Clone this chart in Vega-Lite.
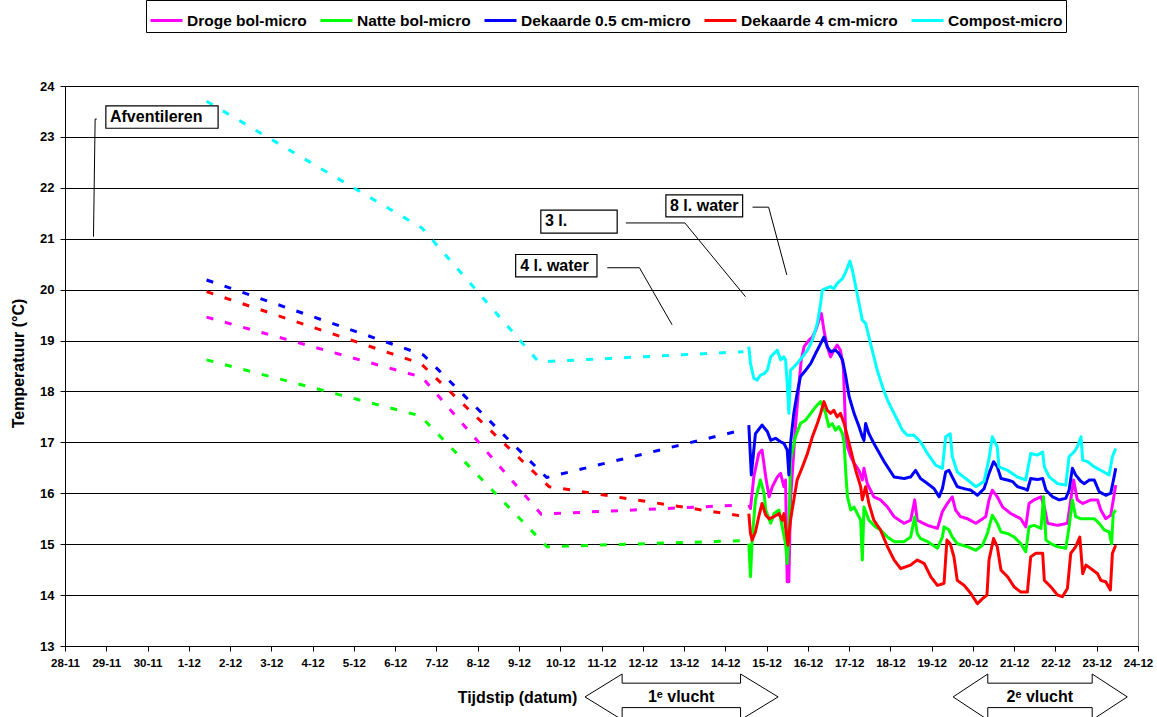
{
  "$schema": "https://vega.github.io/schema/vega-lite/v6.json",
  "width": 1073,
  "height": 560,
  "autosize": {"type": "none"},
  "padding": {"left": 65, "top": 86, "right": 19, "bottom": 71},
  "background": "white",
  "config": {
    "font": "Liberation Sans, Arial, sans-serif",
    "view": {"stroke": "#888888", "strokeWidth": 1},
    "text": {"font": "Liberation Sans, Arial, sans-serif"}
  },
  "datasets": {
    "temps": [
      {"s":"Droge bol-micro","g":"dash","x":3.43,"y":19.46},{"s":"Droge bol-micro","g":"dash","x":8.65,"y":18.28},{"s":"Droge bol-micro","g":"dash","x":11.54,"y":15.59},{"s":"Droge bol-micro","g":"dash","x":16.44,"y":15.77},
      {"s":"Droge bol-micro","g":"solid","x":16.57,"y":15.77},{"s":"Droge bol-micro","g":"solid","x":16.61,"y":15.70},{"s":"Droge bol-micro","g":"solid","x":16.69,"y":16.32},{"s":"Droge bol-micro","g":"solid","x":16.81,"y":16.78},{"s":"Droge bol-micro","g":"solid","x":16.89,"y":16.85},{"s":"Droge bol-micro","g":"solid","x":16.98,"y":16.32},{"s":"Droge bol-micro","g":"solid","x":17.06,"y":15.93},{"s":"Droge bol-micro","g":"solid","x":17.14,"y":16.13},{"s":"Droge bol-micro","g":"solid","x":17.26,"y":16.32},{"s":"Droge bol-micro","g":"solid","x":17.34,"y":16.39},{"s":"Droge bol-micro","g":"solid","x":17.42,"y":16.13},{"s":"Droge bol-micro","g":"solid","x":17.46,"y":16.26},{"s":"Droge bol-micro","g":"solid","x":17.50,"y":14.26},{"s":"Droge bol-micro","g":"solid","x":17.54,"y":14.26},{"s":"Droge bol-micro","g":"solid","x":17.58,"y":15.87},{"s":"Droge bol-micro","g":"solid","x":17.70,"y":17.31},{"s":"Droge bol-micro","g":"solid","x":17.78,"y":18.09},{"s":"Droge bol-micro","g":"solid","x":17.84,"y":18.62},{"s":"Droge bol-micro","g":"solid","x":17.91,"y":18.88},{"s":"Droge bol-micro","g":"solid","x":18.03,"y":19.01},{"s":"Droge bol-micro","g":"solid","x":18.11,"y":19.07},{"s":"Droge bol-micro","g":"solid","x":18.19,"y":19.20},{"s":"Droge bol-micro","g":"solid","x":18.27,"y":19.40},{"s":"Droge bol-micro","g":"solid","x":18.33,"y":19.53},{"s":"Droge bol-micro","g":"solid","x":18.39,"y":19.20},{"s":"Droge bol-micro","g":"solid","x":18.47,"y":18.88},{"s":"Droge bol-micro","g":"solid","x":18.55,"y":18.68},{"s":"Droge bol-micro","g":"solid","x":18.63,"y":18.81},{"s":"Droge bol-micro","g":"solid","x":18.71,"y":18.91},{"s":"Droge bol-micro","g":"solid","x":18.79,"y":18.81},{"s":"Droge bol-micro","g":"solid","x":18.86,"y":18.48},{"s":"Droge bol-micro","g":"solid","x":18.89,"y":17.83},{"s":"Droge bol-micro","g":"solid","x":18.92,"y":17.11},{"s":"Droge bol-micro","g":"solid","x":18.96,"y":16.91},{"s":"Droge bol-micro","g":"solid","x":19.04,"y":16.72},{"s":"Droge bol-micro","g":"solid","x":19.12,"y":16.59},{"s":"Droge bol-micro","g":"solid","x":19.24,"y":16.45},{"s":"Droge bol-micro","g":"solid","x":19.32,"y":16.26},{"s":"Droge bol-micro","g":"solid","x":19.36,"y":16.49},{"s":"Droge bol-micro","g":"solid","x":19.44,"y":16.19},{"s":"Droge bol-micro","g":"solid","x":19.60,"y":15.93},{"s":"Droge bol-micro","g":"solid","x":19.76,"y":15.87},{"s":"Droge bol-micro","g":"solid","x":19.93,"y":15.73},{"s":"Droge bol-micro","g":"solid","x":20.09,"y":15.54},{"s":"Droge bol-micro","g":"solid","x":20.33,"y":15.41},{"s":"Droge bol-micro","g":"solid","x":20.49,"y":15.47},{"s":"Droge bol-micro","g":"solid","x":20.59,"y":15.87},{"s":"Droge bol-micro","g":"solid","x":20.65,"y":15.47},{"s":"Droge bol-micro","g":"solid","x":20.90,"y":15.37},{"s":"Droge bol-micro","g":"solid","x":21.14,"y":15.31},{"s":"Droge bol-micro","g":"solid","x":21.26,"y":15.64},{"s":"Droge bol-micro","g":"solid","x":21.38,"y":15.80},{"s":"Droge bol-micro","g":"solid","x":21.50,"y":15.93},{"s":"Droge bol-micro","g":"solid","x":21.58,"y":15.67},{"s":"Droge bol-micro","g":"solid","x":21.70,"y":15.54},{"s":"Droge bol-micro","g":"solid","x":21.87,"y":15.50},{"s":"Droge bol-micro","g":"solid","x":22.07,"y":15.41},{"s":"Droge bol-micro","g":"solid","x":22.31,"y":15.54},{"s":"Droge bol-micro","g":"solid","x":22.39,"y":15.87},{"s":"Droge bol-micro","g":"solid","x":22.47,"y":16.06},{"s":"Droge bol-micro","g":"solid","x":22.59,"y":15.93},{"s":"Droge bol-micro","g":"solid","x":22.72,"y":15.73},{"s":"Droge bol-micro","g":"solid","x":22.92,"y":15.60},{"s":"Droge bol-micro","g":"solid","x":23.16,"y":15.50},{"s":"Droge bol-micro","g":"solid","x":23.28,"y":15.34},{"s":"Droge bol-micro","g":"solid","x":23.36,"y":15.80},{"s":"Droge bol-micro","g":"solid","x":23.48,"y":15.87},{"s":"Droge bol-micro","g":"solid","x":23.65,"y":15.93},{"s":"Droge bol-micro","g":"solid","x":23.73,"y":15.73},{"s":"Droge bol-micro","g":"solid","x":23.81,"y":15.41},{"s":"Droge bol-micro","g":"solid","x":24.05,"y":15.37},{"s":"Droge bol-micro","g":"solid","x":24.29,"y":15.41},{"s":"Droge bol-micro","g":"solid","x":24.37,"y":15.87},{"s":"Droge bol-micro","g":"solid","x":24.44,"y":16.26},{"s":"Droge bol-micro","g":"solid","x":24.53,"y":15.87},{"s":"Droge bol-micro","g":"solid","x":24.66,"y":15.80},{"s":"Droge bol-micro","g":"solid","x":24.86,"y":15.87},{"s":"Droge bol-micro","g":"solid","x":25.02,"y":15.87},{"s":"Droge bol-micro","g":"solid","x":25.10,"y":15.67},{"s":"Droge bol-micro","g":"solid","x":25.22,"y":15.50},{"s":"Droge bol-micro","g":"solid","x":25.34,"y":15.57},{"s":"Droge bol-micro","g":"solid","x":25.46,"y":16.16},

      {"s":"Natte bol-micro","g":"dash","x":3.43,"y":18.62},{"s":"Natte bol-micro","g":"dash","x":8.61,"y":17.52},{"s":"Natte bol-micro","g":"dash","x":11.68,"y":14.95},{"s":"Natte bol-micro","g":"dash","x":16.44,"y":15.07},
      {"s":"Natte bol-micro","g":"solid","x":16.57,"y":15.01},{"s":"Natte bol-micro","g":"solid","x":16.61,"y":14.36},{"s":"Natte bol-micro","g":"solid","x":16.65,"y":15.08},{"s":"Natte bol-micro","g":"solid","x":16.73,"y":15.87},{"s":"Natte bol-micro","g":"solid","x":16.85,"y":16.26},{"s":"Natte bol-micro","g":"solid","x":16.94,"y":16.00},{"s":"Natte bol-micro","g":"solid","x":16.98,"y":15.67},{"s":"Natte bol-micro","g":"solid","x":17.10,"y":15.41},{"s":"Natte bol-micro","g":"solid","x":17.18,"y":15.60},{"s":"Natte bol-micro","g":"solid","x":17.30,"y":15.67},{"s":"Natte bol-micro","g":"solid","x":17.38,"y":15.34},{"s":"Natte bol-micro","g":"solid","x":17.46,"y":15.01},{"s":"Natte bol-micro","g":"solid","x":17.50,"y":14.62},{"s":"Natte bol-micro","g":"solid","x":17.54,"y":15.21},{"s":"Natte bol-micro","g":"solid","x":17.58,"y":16.65},{"s":"Natte bol-micro","g":"solid","x":17.70,"y":17.11},{"s":"Natte bol-micro","g":"solid","x":17.82,"y":17.37},{"s":"Natte bol-micro","g":"solid","x":17.95,"y":17.44},{"s":"Natte bol-micro","g":"solid","x":18.07,"y":17.57},{"s":"Natte bol-micro","g":"solid","x":18.19,"y":17.70},{"s":"Natte bol-micro","g":"solid","x":18.31,"y":17.80},{"s":"Natte bol-micro","g":"solid","x":18.43,"y":17.57},{"s":"Natte bol-micro","g":"solid","x":18.51,"y":17.31},{"s":"Natte bol-micro","g":"solid","x":18.59,"y":17.37},{"s":"Natte bol-micro","g":"solid","x":18.67,"y":17.24},{"s":"Natte bol-micro","g":"solid","x":18.75,"y":17.31},{"s":"Natte bol-micro","g":"solid","x":18.84,"y":17.17},{"s":"Natte bol-micro","g":"solid","x":18.88,"y":16.98},{"s":"Natte bol-micro","g":"solid","x":18.92,"y":16.39},{"s":"Natte bol-micro","g":"solid","x":18.96,"y":15.93},{"s":"Natte bol-micro","g":"solid","x":19.04,"y":15.67},{"s":"Natte bol-micro","g":"solid","x":19.12,"y":15.73},{"s":"Natte bol-micro","g":"solid","x":19.20,"y":15.60},{"s":"Natte bol-micro","g":"solid","x":19.28,"y":15.47},{"s":"Natte bol-micro","g":"solid","x":19.32,"y":14.69},{"s":"Natte bol-micro","g":"solid","x":19.36,"y":15.73},{"s":"Natte bol-micro","g":"solid","x":19.48,"y":15.47},{"s":"Natte bol-micro","g":"solid","x":19.64,"y":15.34},{"s":"Natte bol-micro","g":"solid","x":19.76,"y":15.28},{"s":"Natte bol-micro","g":"solid","x":19.93,"y":15.14},{"s":"Natte bol-micro","g":"solid","x":20.09,"y":15.05},{"s":"Natte bol-micro","g":"solid","x":20.33,"y":15.05},{"s":"Natte bol-micro","g":"solid","x":20.49,"y":15.14},{"s":"Natte bol-micro","g":"solid","x":20.59,"y":15.54},{"s":"Natte bol-micro","g":"solid","x":20.65,"y":15.21},{"s":"Natte bol-micro","g":"solid","x":20.73,"y":15.11},{"s":"Natte bol-micro","g":"solid","x":20.90,"y":15.05},{"s":"Natte bol-micro","g":"solid","x":21.14,"y":14.92},{"s":"Natte bol-micro","g":"solid","x":21.26,"y":15.14},{"s":"Natte bol-micro","g":"solid","x":21.30,"y":15.34},{"s":"Natte bol-micro","g":"solid","x":21.42,"y":15.28},{"s":"Natte bol-micro","g":"solid","x":21.50,"y":15.14},{"s":"Natte bol-micro","g":"solid","x":21.62,"y":15.01},{"s":"Natte bol-micro","g":"solid","x":21.87,"y":14.95},{"s":"Natte bol-micro","g":"solid","x":22.07,"y":14.88},{"s":"Natte bol-micro","g":"solid","x":22.23,"y":14.98},{"s":"Natte bol-micro","g":"solid","x":22.35,"y":15.21},{"s":"Natte bol-micro","g":"solid","x":22.47,"y":15.57},{"s":"Natte bol-micro","g":"solid","x":22.59,"y":15.41},{"s":"Natte bol-micro","g":"solid","x":22.68,"y":15.24},{"s":"Natte bol-micro","g":"solid","x":22.84,"y":15.21},{"s":"Natte bol-micro","g":"solid","x":23.00,"y":15.14},{"s":"Natte bol-micro","g":"solid","x":23.16,"y":15.01},{"s":"Natte bol-micro","g":"solid","x":23.28,"y":14.85},{"s":"Natte bol-micro","g":"solid","x":23.36,"y":15.34},{"s":"Natte bol-micro","g":"solid","x":23.48,"y":15.37},{"s":"Natte bol-micro","g":"solid","x":23.65,"y":15.31},{"s":"Natte bol-micro","g":"solid","x":23.71,"y":15.93},{"s":"Natte bol-micro","g":"solid","x":23.77,"y":15.08},{"s":"Natte bol-micro","g":"solid","x":23.89,"y":15.01},{"s":"Natte bol-micro","g":"solid","x":24.05,"y":14.95},{"s":"Natte bol-micro","g":"solid","x":24.25,"y":14.92},{"s":"Natte bol-micro","g":"solid","x":24.33,"y":15.34},{"s":"Natte bol-micro","g":"solid","x":24.41,"y":15.87},{"s":"Natte bol-micro","g":"solid","x":24.49,"y":15.54},{"s":"Natte bol-micro","g":"solid","x":24.62,"y":15.50},{"s":"Natte bol-micro","g":"solid","x":24.78,"y":15.50},{"s":"Natte bol-micro","g":"solid","x":24.94,"y":15.50},{"s":"Natte bol-micro","g":"solid","x":25.06,"y":15.41},{"s":"Natte bol-micro","g":"solid","x":25.18,"y":15.28},{"s":"Natte bol-micro","g":"solid","x":25.30,"y":15.24},{"s":"Natte bol-micro","g":"solid","x":25.36,"y":15.01},{"s":"Natte bol-micro","g":"solid","x":25.40,"y":15.60},{"s":"Natte bol-micro","g":"solid","x":25.46,"y":15.67},

      {"s":"Dekaarde 0.5 cm-micro","g":"dash","x":3.43,"y":20.19},{"s":"Dekaarde 0.5 cm-micro","g":"dash","x":8.68,"y":18.72},{"s":"Dekaarde 0.5 cm-micro","g":"dash","x":11.67,"y":16.31},{"s":"Dekaarde 0.5 cm-micro","g":"dash","x":16.45,"y":17.25},
      {"s":"Dekaarde 0.5 cm-micro","g":"solid","x":16.57,"y":17.34},{"s":"Dekaarde 0.5 cm-micro","g":"solid","x":16.63,"y":16.36},{"s":"Dekaarde 0.5 cm-micro","g":"solid","x":16.73,"y":17.17},{"s":"Dekaarde 0.5 cm-micro","g":"solid","x":16.89,"y":17.34},{"s":"Dekaarde 0.5 cm-micro","g":"solid","x":17.02,"y":17.21},{"s":"Dekaarde 0.5 cm-micro","g":"solid","x":17.10,"y":17.04},{"s":"Dekaarde 0.5 cm-micro","g":"solid","x":17.22,"y":17.08},{"s":"Dekaarde 0.5 cm-micro","g":"solid","x":17.34,"y":17.01},{"s":"Dekaarde 0.5 cm-micro","g":"solid","x":17.42,"y":16.98},{"s":"Dekaarde 0.5 cm-micro","g":"solid","x":17.50,"y":16.85},{"s":"Dekaarde 0.5 cm-micro","g":"solid","x":17.54,"y":16.36},{"s":"Dekaarde 0.5 cm-micro","g":"solid","x":17.58,"y":16.98},{"s":"Dekaarde 0.5 cm-micro","g":"solid","x":17.66,"y":17.57},{"s":"Dekaarde 0.5 cm-micro","g":"solid","x":17.74,"y":17.96},{"s":"Dekaarde 0.5 cm-micro","g":"solid","x":17.82,"y":18.29},{"s":"Dekaarde 0.5 cm-micro","g":"solid","x":17.95,"y":18.42},{"s":"Dekaarde 0.5 cm-micro","g":"solid","x":18.07,"y":18.55},{"s":"Dekaarde 0.5 cm-micro","g":"solid","x":18.19,"y":18.75},{"s":"Dekaarde 0.5 cm-micro","g":"solid","x":18.31,"y":18.94},{"s":"Dekaarde 0.5 cm-micro","g":"solid","x":18.39,"y":19.07},{"s":"Dekaarde 0.5 cm-micro","g":"solid","x":18.47,"y":18.88},{"s":"Dekaarde 0.5 cm-micro","g":"solid","x":18.55,"y":18.78},{"s":"Dekaarde 0.5 cm-micro","g":"solid","x":18.67,"y":18.81},{"s":"Dekaarde 0.5 cm-micro","g":"solid","x":18.75,"y":18.75},{"s":"Dekaarde 0.5 cm-micro","g":"solid","x":18.84,"y":18.62},{"s":"Dekaarde 0.5 cm-micro","g":"solid","x":18.92,"y":18.29},{"s":"Dekaarde 0.5 cm-micro","g":"solid","x":19.00,"y":17.90},{"s":"Dekaarde 0.5 cm-micro","g":"solid","x":19.12,"y":17.57},{"s":"Dekaarde 0.5 cm-micro","g":"solid","x":19.24,"y":17.31},{"s":"Dekaarde 0.5 cm-micro","g":"solid","x":19.32,"y":17.11},{"s":"Dekaarde 0.5 cm-micro","g":"solid","x":19.36,"y":17.04},{"s":"Dekaarde 0.5 cm-micro","g":"solid","x":19.40,"y":17.37},{"s":"Dekaarde 0.5 cm-micro","g":"solid","x":19.48,"y":17.17},{"s":"Dekaarde 0.5 cm-micro","g":"solid","x":19.60,"y":16.98},{"s":"Dekaarde 0.5 cm-micro","g":"solid","x":19.85,"y":16.62},{"s":"Dekaarde 0.5 cm-micro","g":"solid","x":20.09,"y":16.32},{"s":"Dekaarde 0.5 cm-micro","g":"solid","x":20.33,"y":16.29},{"s":"Dekaarde 0.5 cm-micro","g":"solid","x":20.49,"y":16.32},{"s":"Dekaarde 0.5 cm-micro","g":"solid","x":20.61,"y":16.45},{"s":"Dekaarde 0.5 cm-micro","g":"solid","x":20.73,"y":16.29},{"s":"Dekaarde 0.5 cm-micro","g":"solid","x":20.90,"y":16.19},{"s":"Dekaarde 0.5 cm-micro","g":"solid","x":21.06,"y":16.09},{"s":"Dekaarde 0.5 cm-micro","g":"solid","x":21.18,"y":15.93},{"s":"Dekaarde 0.5 cm-micro","g":"solid","x":21.26,"y":16.09},{"s":"Dekaarde 0.5 cm-micro","g":"solid","x":21.34,"y":16.42},{"s":"Dekaarde 0.5 cm-micro","g":"solid","x":21.42,"y":16.45},{"s":"Dekaarde 0.5 cm-micro","g":"solid","x":21.50,"y":16.32},{"s":"Dekaarde 0.5 cm-micro","g":"solid","x":21.62,"y":16.13},{"s":"Dekaarde 0.5 cm-micro","g":"solid","x":21.79,"y":16.09},{"s":"Dekaarde 0.5 cm-micro","g":"solid","x":21.95,"y":16.06},{"s":"Dekaarde 0.5 cm-micro","g":"solid","x":22.11,"y":15.96},{"s":"Dekaarde 0.5 cm-micro","g":"solid","x":22.27,"y":16.09},{"s":"Dekaarde 0.5 cm-micro","g":"solid","x":22.39,"y":16.39},{"s":"Dekaarde 0.5 cm-micro","g":"solid","x":22.50,"y":16.62},{"s":"Dekaarde 0.5 cm-micro","g":"solid","x":22.59,"y":16.52},{"s":"Dekaarde 0.5 cm-micro","g":"solid","x":22.68,"y":16.29},{"s":"Dekaarde 0.5 cm-micro","g":"solid","x":22.84,"y":16.26},{"s":"Dekaarde 0.5 cm-micro","g":"solid","x":22.96,"y":16.23},{"s":"Dekaarde 0.5 cm-micro","g":"solid","x":23.08,"y":16.13},{"s":"Dekaarde 0.5 cm-micro","g":"solid","x":23.24,"y":16.09},{"s":"Dekaarde 0.5 cm-micro","g":"solid","x":23.32,"y":16.06},{"s":"Dekaarde 0.5 cm-micro","g":"solid","x":23.40,"y":16.29},{"s":"Dekaarde 0.5 cm-micro","g":"solid","x":23.56,"y":16.27},{"s":"Dekaarde 0.5 cm-micro","g":"solid","x":23.69,"y":16.29},{"s":"Dekaarde 0.5 cm-micro","g":"solid","x":23.77,"y":16.06},{"s":"Dekaarde 0.5 cm-micro","g":"solid","x":23.93,"y":15.93},{"s":"Dekaarde 0.5 cm-micro","g":"solid","x":24.09,"y":15.87},{"s":"Dekaarde 0.5 cm-micro","g":"solid","x":24.25,"y":15.90},{"s":"Dekaarde 0.5 cm-micro","g":"solid","x":24.33,"y":16.06},{"s":"Dekaarde 0.5 cm-micro","g":"solid","x":24.41,"y":16.49},{"s":"Dekaarde 0.5 cm-micro","g":"solid","x":24.49,"y":16.36},{"s":"Dekaarde 0.5 cm-micro","g":"solid","x":24.62,"y":16.23},{"s":"Dekaarde 0.5 cm-micro","g":"solid","x":24.70,"y":16.19},{"s":"Dekaarde 0.5 cm-micro","g":"solid","x":24.82,"y":16.26},{"s":"Dekaarde 0.5 cm-micro","g":"solid","x":24.94,"y":16.26},{"s":"Dekaarde 0.5 cm-micro","g":"solid","x":25.06,"y":16.03},{"s":"Dekaarde 0.5 cm-micro","g":"solid","x":25.22,"y":15.96},{"s":"Dekaarde 0.5 cm-micro","g":"solid","x":25.34,"y":16.00},{"s":"Dekaarde 0.5 cm-micro","g":"solid","x":25.42,"y":16.32},{"s":"Dekaarde 0.5 cm-micro","g":"solid","x":25.46,"y":16.49},

      {"s":"Dekaarde 4 cm-micro","g":"dash","x":3.43,"y":19.96},{"s":"Dekaarde 4 cm-micro","g":"dash","x":8.62,"y":18.55},{"s":"Dekaarde 4 cm-micro","g":"dash","x":11.73,"y":16.13},{"s":"Dekaarde 4 cm-micro","g":"dash","x":16.42,"y":15.55},
      {"s":"Dekaarde 4 cm-micro","g":"solid","x":16.57,"y":15.60},{"s":"Dekaarde 4 cm-micro","g":"solid","x":16.61,"y":15.21},{"s":"Dekaarde 4 cm-micro","g":"solid","x":16.65,"y":15.08},{"s":"Dekaarde 4 cm-micro","g":"solid","x":16.73,"y":15.24},{"s":"Dekaarde 4 cm-micro","g":"solid","x":16.81,"y":15.54},{"s":"Dekaarde 4 cm-micro","g":"solid","x":16.89,"y":15.80},{"s":"Dekaarde 4 cm-micro","g":"solid","x":16.98,"y":15.57},{"s":"Dekaarde 4 cm-micro","g":"solid","x":17.06,"y":15.50},{"s":"Dekaarde 4 cm-micro","g":"solid","x":17.18,"y":15.54},{"s":"Dekaarde 4 cm-micro","g":"solid","x":17.30,"y":15.60},{"s":"Dekaarde 4 cm-micro","g":"solid","x":17.38,"y":15.47},{"s":"Dekaarde 4 cm-micro","g":"solid","x":17.42,"y":15.60},{"s":"Dekaarde 4 cm-micro","g":"solid","x":17.50,"y":15.08},{"s":"Dekaarde 4 cm-micro","g":"solid","x":17.52,"y":14.98},{"s":"Dekaarde 4 cm-micro","g":"solid","x":17.58,"y":15.47},{"s":"Dekaarde 4 cm-micro","g":"solid","x":17.66,"y":15.87},{"s":"Dekaarde 4 cm-micro","g":"solid","x":17.74,"y":16.26},{"s":"Dekaarde 4 cm-micro","g":"solid","x":17.87,"y":16.52},{"s":"Dekaarde 4 cm-micro","g":"solid","x":17.99,"y":16.78},{"s":"Dekaarde 4 cm-micro","g":"solid","x":18.11,"y":17.11},{"s":"Dekaarde 4 cm-micro","g":"solid","x":18.23,"y":17.37},{"s":"Dekaarde 4 cm-micro","g":"solid","x":18.31,"y":17.57},{"s":"Dekaarde 4 cm-micro","g":"solid","x":18.39,"y":17.80},{"s":"Dekaarde 4 cm-micro","g":"solid","x":18.47,"y":17.63},{"s":"Dekaarde 4 cm-micro","g":"solid","x":18.55,"y":17.57},{"s":"Dekaarde 4 cm-micro","g":"solid","x":18.63,"y":17.63},{"s":"Dekaarde 4 cm-micro","g":"solid","x":18.71,"y":17.50},{"s":"Dekaarde 4 cm-micro","g":"solid","x":18.79,"y":17.57},{"s":"Dekaarde 4 cm-micro","g":"solid","x":18.88,"y":17.37},{"s":"Dekaarde 4 cm-micro","g":"solid","x":18.96,"y":17.11},{"s":"Dekaarde 4 cm-micro","g":"solid","x":19.04,"y":16.85},{"s":"Dekaarde 4 cm-micro","g":"solid","x":19.16,"y":16.45},{"s":"Dekaarde 4 cm-micro","g":"solid","x":19.28,"y":16.13},{"s":"Dekaarde 4 cm-micro","g":"solid","x":19.32,"y":15.87},{"s":"Dekaarde 4 cm-micro","g":"solid","x":19.40,"y":16.13},{"s":"Dekaarde 4 cm-micro","g":"solid","x":19.48,"y":15.80},{"s":"Dekaarde 4 cm-micro","g":"solid","x":19.60,"y":15.47},{"s":"Dekaarde 4 cm-micro","g":"solid","x":19.76,"y":15.28},{"s":"Dekaarde 4 cm-micro","g":"solid","x":19.93,"y":14.95},{"s":"Dekaarde 4 cm-micro","g":"solid","x":20.09,"y":14.69},{"s":"Dekaarde 4 cm-micro","g":"solid","x":20.25,"y":14.52},{"s":"Dekaarde 4 cm-micro","g":"solid","x":20.49,"y":14.59},{"s":"Dekaarde 4 cm-micro","g":"solid","x":20.65,"y":14.69},{"s":"Dekaarde 4 cm-micro","g":"solid","x":20.82,"y":14.62},{"s":"Dekaarde 4 cm-micro","g":"solid","x":20.98,"y":14.36},{"s":"Dekaarde 4 cm-micro","g":"solid","x":21.14,"y":14.19},{"s":"Dekaarde 4 cm-micro","g":"solid","x":21.30,"y":14.23},{"s":"Dekaarde 4 cm-micro","g":"solid","x":21.37,"y":15.08},{"s":"Dekaarde 4 cm-micro","g":"solid","x":21.45,"y":15.01},{"s":"Dekaarde 4 cm-micro","g":"solid","x":21.54,"y":14.75},{"s":"Dekaarde 4 cm-micro","g":"solid","x":21.62,"y":14.29},{"s":"Dekaarde 4 cm-micro","g":"solid","x":21.79,"y":14.19},{"s":"Dekaarde 4 cm-micro","g":"solid","x":21.95,"y":14.03},{"s":"Dekaarde 4 cm-micro","g":"solid","x":22.11,"y":13.83},{"s":"Dekaarde 4 cm-micro","g":"solid","x":22.23,"y":13.93},{"s":"Dekaarde 4 cm-micro","g":"solid","x":22.34,"y":14.00},{"s":"Dekaarde 4 cm-micro","g":"solid","x":22.39,"y":14.69},{"s":"Dekaarde 4 cm-micro","g":"solid","x":22.50,"y":15.11},{"s":"Dekaarde 4 cm-micro","g":"solid","x":22.59,"y":14.95},{"s":"Dekaarde 4 cm-micro","g":"solid","x":22.68,"y":14.49},{"s":"Dekaarde 4 cm-micro","g":"solid","x":22.84,"y":14.36},{"s":"Dekaarde 4 cm-micro","g":"solid","x":23.00,"y":14.16},{"s":"Dekaarde 4 cm-micro","g":"solid","x":23.16,"y":14.06},{"s":"Dekaarde 4 cm-micro","g":"solid","x":23.32,"y":14.06},{"s":"Dekaarde 4 cm-micro","g":"solid","x":23.40,"y":14.75},{"s":"Dekaarde 4 cm-micro","g":"solid","x":23.52,"y":14.82},{"s":"Dekaarde 4 cm-micro","g":"solid","x":23.69,"y":14.82},{"s":"Dekaarde 4 cm-micro","g":"solid","x":23.73,"y":14.29},{"s":"Dekaarde 4 cm-micro","g":"solid","x":23.89,"y":14.16},{"s":"Dekaarde 4 cm-micro","g":"solid","x":24.05,"y":14.00},{"s":"Dekaarde 4 cm-micro","g":"solid","x":24.17,"y":13.97},{"s":"Dekaarde 4 cm-micro","g":"solid","x":24.29,"y":14.13},{"s":"Dekaarde 4 cm-micro","g":"solid","x":24.37,"y":14.82},{"s":"Dekaarde 4 cm-micro","g":"solid","x":24.49,"y":14.95},{"s":"Dekaarde 4 cm-micro","g":"solid","x":24.59,"y":15.14},{"s":"Dekaarde 4 cm-micro","g":"solid","x":24.66,"y":14.42},{"s":"Dekaarde 4 cm-micro","g":"solid","x":24.74,"y":14.59},{"s":"Dekaarde 4 cm-micro","g":"solid","x":24.86,"y":14.52},{"s":"Dekaarde 4 cm-micro","g":"solid","x":25.02,"y":14.42},{"s":"Dekaarde 4 cm-micro","g":"solid","x":25.10,"y":14.29},{"s":"Dekaarde 4 cm-micro","g":"solid","x":25.22,"y":14.26},{"s":"Dekaarde 4 cm-micro","g":"solid","x":25.33,"y":14.10},{"s":"Dekaarde 4 cm-micro","g":"solid","x":25.38,"y":14.82},{"s":"Dekaarde 4 cm-micro","g":"solid","x":25.46,"y":14.98},

      {"s":"Compost-micro","g":"dash","x":3.43,"y":23.70},{"s":"Compost-micro","g":"dash","x":8.65,"y":21.21},{"s":"Compost-micro","g":"dash","x":11.48,"y":18.58},{"s":"Compost-micro","g":"dash","x":16.44,"y":18.78},
      {"s":"Compost-micro","g":"solid","x":16.57,"y":18.88},{"s":"Compost-micro","g":"solid","x":16.61,"y":18.55},{"s":"Compost-micro","g":"solid","x":16.69,"y":18.26},{"s":"Compost-micro","g":"solid","x":16.77,"y":18.22},{"s":"Compost-micro","g":"solid","x":16.85,"y":18.32},{"s":"Compost-micro","g":"solid","x":16.94,"y":18.35},{"s":"Compost-micro","g":"solid","x":17.02,"y":18.42},{"s":"Compost-micro","g":"solid","x":17.10,"y":18.68},{"s":"Compost-micro","g":"solid","x":17.18,"y":18.75},{"s":"Compost-micro","g":"solid","x":17.26,"y":18.81},{"s":"Compost-micro","g":"solid","x":17.34,"y":18.62},{"s":"Compost-micro","g":"solid","x":17.42,"y":18.68},{"s":"Compost-micro","g":"solid","x":17.46,"y":18.62},{"s":"Compost-micro","g":"solid","x":17.50,"y":18.16},{"s":"Compost-micro","g":"solid","x":17.54,"y":17.57},{"s":"Compost-micro","g":"solid","x":17.58,"y":18.42},{"s":"Compost-micro","g":"solid","x":17.66,"y":18.48},{"s":"Compost-micro","g":"solid","x":17.74,"y":18.55},{"s":"Compost-micro","g":"solid","x":17.87,"y":18.68},{"s":"Compost-micro","g":"solid","x":17.99,"y":18.81},{"s":"Compost-micro","g":"solid","x":18.11,"y":19.01},{"s":"Compost-micro","g":"solid","x":18.23,"y":19.34},{"s":"Compost-micro","g":"solid","x":18.31,"y":19.73},{"s":"Compost-micro","g":"solid","x":18.35,"y":19.99},{"s":"Compost-micro","g":"solid","x":18.43,"y":20.02},{"s":"Compost-micro","g":"solid","x":18.55,"y":20.06},{"s":"Compost-micro","g":"solid","x":18.63,"y":20.02},{"s":"Compost-micro","g":"solid","x":18.71,"y":20.12},{"s":"Compost-micro","g":"solid","x":18.84,"y":20.22},{"s":"Compost-micro","g":"solid","x":18.92,"y":20.35},{"s":"Compost-micro","g":"solid","x":19.00,"y":20.52},{"s":"Compost-micro","g":"solid","x":19.02,"y":20.56},{"s":"Compost-micro","g":"solid","x":19.08,"y":20.38},{"s":"Compost-micro","g":"solid","x":19.16,"y":20.06},{"s":"Compost-micro","g":"solid","x":19.24,"y":19.73},{"s":"Compost-micro","g":"solid","x":19.32,"y":19.40},{"s":"Compost-micro","g":"solid","x":19.40,"y":19.34},{"s":"Compost-micro","g":"solid","x":19.48,"y":19.07},{"s":"Compost-micro","g":"solid","x":19.56,"y":18.81},{"s":"Compost-micro","g":"solid","x":19.68,"y":18.42},{"s":"Compost-micro","g":"solid","x":19.81,"y":18.09},{"s":"Compost-micro","g":"solid","x":19.93,"y":17.83},{"s":"Compost-micro","g":"solid","x":20.05,"y":17.63},{"s":"Compost-micro","g":"solid","x":20.17,"y":17.44},{"s":"Compost-micro","g":"solid","x":20.29,"y":17.24},{"s":"Compost-micro","g":"solid","x":20.41,"y":17.14},{"s":"Compost-micro","g":"solid","x":20.57,"y":17.14},{"s":"Compost-micro","g":"solid","x":20.73,"y":17.01},{"s":"Compost-micro","g":"solid","x":20.90,"y":16.78},{"s":"Compost-micro","g":"solid","x":21.10,"y":16.55},{"s":"Compost-micro","g":"solid","x":21.26,"y":16.49},{"s":"Compost-micro","g":"solid","x":21.34,"y":17.11},{"s":"Compost-micro","g":"solid","x":21.45,"y":17.17},{"s":"Compost-micro","g":"solid","x":21.50,"y":16.72},{"s":"Compost-micro","g":"solid","x":21.62,"y":16.42},{"s":"Compost-micro","g":"solid","x":21.87,"y":16.26},{"s":"Compost-micro","g":"solid","x":22.07,"y":16.13},{"s":"Compost-micro","g":"solid","x":22.27,"y":16.23},{"s":"Compost-micro","g":"solid","x":22.39,"y":16.68},{"s":"Compost-micro","g":"solid","x":22.47,"y":17.11},{"s":"Compost-micro","g":"solid","x":22.59,"y":16.91},{"s":"Compost-micro","g":"solid","x":22.63,"y":16.52},{"s":"Compost-micro","g":"solid","x":22.84,"y":16.45},{"s":"Compost-micro","g":"solid","x":23.08,"y":16.32},{"s":"Compost-micro","g":"solid","x":23.28,"y":16.26},{"s":"Compost-micro","g":"solid","x":23.40,"y":16.78},{"s":"Compost-micro","g":"solid","x":23.56,"y":16.75},{"s":"Compost-micro","g":"solid","x":23.69,"y":16.81},{"s":"Compost-micro","g":"solid","x":23.73,"y":16.52},{"s":"Compost-micro","g":"solid","x":23.85,"y":16.32},{"s":"Compost-micro","g":"solid","x":24.05,"y":16.19},{"s":"Compost-micro","g":"solid","x":24.25,"y":16.16},{"s":"Compost-micro","g":"solid","x":24.33,"y":16.72},{"s":"Compost-micro","g":"solid","x":24.45,"y":16.81},{"s":"Compost-micro","g":"solid","x":24.53,"y":16.91},{"s":"Compost-micro","g":"solid","x":24.62,"y":17.11},{"s":"Compost-micro","g":"solid","x":24.66,"y":16.65},{"s":"Compost-micro","g":"solid","x":24.78,"y":16.62},{"s":"Compost-micro","g":"solid","x":24.94,"y":16.52},{"s":"Compost-micro","g":"solid","x":25.10,"y":16.45},{"s":"Compost-micro","g":"solid","x":25.30,"y":16.36},{"s":"Compost-micro","g":"solid","x":25.38,"y":16.72},{"s":"Compost-micro","g":"solid","x":25.46,"y":16.88}
    ],
    "boxes": [
      {"label":"Afventileren","x":0.99,"x2":3.71,"y":23.61,"y2":23.17,"tx":1.09,"ty":23.39},
      {"label":"3 l.","x":11.53,"x2":13.38,"y":21.56,"y2":21.11,"tx":11.63,"ty":21.34},
      {"label":"8 l. water","x":14.56,"x2":16.42,"y":21.86,"y2":21.43,"tx":14.66,"ty":21.65},
      {"label":"4 l. water","x":10.92,"x2":12.89,"y":20.69,"y2":20.25,"tx":11.03,"ty":20.47}
    ],
    "leaders": [
      {"id":"A","o":1,"x":0.77,"y":23.35},{"id":"A","o":2,"x":0.73,"y":23.35},{"id":"A","o":3,"x":0.69,"y":21.04},
      {"id":"B","o":1,"x":13.59,"y":21.31},{"id":"B","o":2,"x":15.02,"y":21.31},{"id":"B","o":3,"x":16.49,"y":19.86},
      {"id":"C","o":1,"x":16.66,"y":21.62},{"id":"C","o":2,"x":17.05,"y":21.62},{"id":"C","o":3,"x":17.49,"y":20.29},
      {"id":"D","o":1,"x":13.14,"y":20.43},{"id":"D","o":2,"x":13.92,"y":20.43},{"id":"D","o":3,"x":14.71,"y":19.31}
    ],
    "arrows": [
      {"id":"v1","o":1,"x":12.60,"y":12.00},{"id":"v1","o":2,"x":13.50,"y":12.45},{"id":"v1","o":3,"x":13.50,"y":12.27},{"id":"v1","o":4,"x":16.37,"y":12.27},{"id":"v1","o":5,"x":16.37,"y":12.45},{"id":"v1","o":6,"x":17.28,"y":12.00},{"id":"v1","o":7,"x":16.37,"y":11.55},{"id":"v1","o":8,"x":16.37,"y":11.79},{"id":"v1","o":9,"x":13.50,"y":11.79},{"id":"v1","o":10,"x":13.50,"y":11.55},{"id":"v1","o":11,"x":12.60,"y":12.00},
      {"id":"v2","o":1,"x":21.52,"y":12.00},{"id":"v2","o":2,"x":22.36,"y":12.45},{"id":"v2","o":3,"x":22.36,"y":12.27},{"id":"v2","o":4,"x":24.89,"y":12.27},{"id":"v2","o":5,"x":24.89,"y":12.45},{"id":"v2","o":6,"x":25.74,"y":12.00},{"id":"v2","o":7,"x":24.89,"y":11.55},{"id":"v2","o":8,"x":24.89,"y":11.79},{"id":"v2","o":9,"x":22.36,"y":11.79},{"id":"v2","o":10,"x":22.36,"y":11.55},{"id":"v2","o":11,"x":21.52,"y":12.00}
    ],
    "arrowtext": [
      {"label":"1ᵉ vlucht","x":14.93,"y":12.0},
      {"label":"2ᵉ vlucht","x":23.62,"y":12.0}
    ]
  },
  "encoding": {
    "x": {
      "field": "x", "type": "quantitative",
      "scale": {"domain": [0, 26], "nice": false, "zero": false},
      "axis": {
        "title": "Tijdstip (datum)",
        "values": [0,1,2,3,4,5,6,7,8,9,10,11,12,13,14,15,16,17,18,19,20,21,22,23,24,25,26],
        "labelExpr": "datum.value < 3 ? (28 + datum.value) + '-11' : (datum.value - 2) + '-12'",
        "grid": false,
        "domainColor": "#000000",
        "tickColor": "#000000", "tickSize": 5,
        "labelFont": "Liberation Sans, Arial, sans-serif", "labelFontWeight": "bold", "labelFontSize": 11.5, "labelColor": "#000000",
        "labelPadding": 6, "labelOverlap": false, "labelFlush": false,
        "titleFont": "Liberation Sans, Arial, sans-serif", "titleFontWeight": "bold", "titleFontSize": 16, "titleColor": "#000000",
        "titleX": 452, "titleY": 51, "titleAlign": "center", "titleBaseline": "middle"
      }
    },
    "y": {
      "field": "y", "type": "quantitative",
      "scale": {"domain": [13, 24], "nice": false, "zero": false},
      "axis": {
        "title": "Temperatuur (°C)",
        "values": [13,14,15,16,17,18,19,20,21,22,23,24],
        "grid": true,
        "gridColor": "#000000",
        "domainColor": "#000000",
        "tickColor": "#000000", "tickSize": 5,
        "labelFont": "Liberation Sans, Arial, sans-serif", "labelFontWeight": "bold", "labelFontSize": 13, "labelColor": "#000000",
        "labelPadding": 6,
        "titleFont": "Liberation Sans, Arial, sans-serif", "titleFontWeight": "bold", "titleFontSize": 16, "titleColor": "#000000",
        "titleX": -47, "titleY": 277, "titleAlign": "center", "titleBaseline": "middle", "titleAngle": 270
      }
    }
  },
  "layer": [
    {
      "data": {"name": "temps"},
      "mark": {"type": "line", "strokeWidth": 3, "strokeCap": "butt", "strokeJoin": "round"},
      "encoding": {
        "color": {
          "field": "s", "type": "nominal",
          "scale": {
            "domain": ["Droge bol-micro", "Natte bol-micro", "Dekaarde 0.5 cm-micro", "Dekaarde 4 cm-micro", "Compost-micro"],
            "range": ["#FF00FF", "#00FF00", "#0000FF", "#FF0000", "#00FFFF"]
          },
          "legend": {
            "title": null,
            "orient": "none",
            "legendX": 81,
            "legendY": -86,
            "direction": "horizontal",
            "columns": 5,
            "symbolType": "stroke",
            "symbolSize": 1024,
            "symbolStrokeWidth": 3,
            "labelFont": "Liberation Sans, Arial, sans-serif",
            "labelFontWeight": "bold",
            "labelFontSize": 15.5,
            "labelColor": "#000000",
            "labelOffset": 3,
            "columnPadding": 7,
            "padding": 3,
            "strokeColor": "#000000",
            "fillColor": "#FFFFFF",
            "labelLimit": 400
          }
        },
        "strokeDash": {
          "field": "g", "type": "nominal",
          "scale": {"domain": ["dash", "solid"], "range": [[7, 12], [1, 0]]},
          "legend": null
        }
      }
    },
    {
      "data": {"name": "leaders"},
      "mark": {"type": "line", "color": "#000000", "strokeWidth": 1},
      "encoding": {
        "detail": {"field": "id", "type": "nominal"},
        "order": {"field": "o", "type": "quantitative"}
      }
    },
    {
      "data": {"name": "boxes"},
      "mark": {"type": "rect", "fill": "#FFFFFF", "stroke": "#000000", "strokeWidth": 1.2},
      "encoding": {
        "x2": {"field": "x2"},
        "y2": {"field": "y2"}
      }
    },
    {
      "data": {"name": "boxes"},
      "mark": {"type": "text", "align": "left", "baseline": "middle", "font": "Liberation Sans, Arial, sans-serif", "fontWeight": "bold", "fontSize": 16, "color": "#000000"},
      "encoding": {
        "x": {"field": "tx", "type": "quantitative"},
        "y": {"field": "ty", "type": "quantitative"},
        "text": {"field": "label", "type": "nominal"}
      }
    },
    {
      "data": {"name": "arrows"},
      "mark": {"type": "line", "color": "#000000", "strokeWidth": 1, "strokeJoin": "miter"},
      "encoding": {
        "detail": {"field": "id", "type": "nominal"},
        "order": {"field": "o", "type": "quantitative"}
      }
    },
    {
      "data": {"name": "arrowtext"},
      "mark": {"type": "text", "align": "center", "baseline": "middle", "font": "Liberation Sans, Arial, sans-serif", "fontWeight": "bold", "fontSize": 16, "color": "#000000"},
      "encoding": {
        "text": {"field": "label", "type": "nominal"}
      }
    }
  ]
}
